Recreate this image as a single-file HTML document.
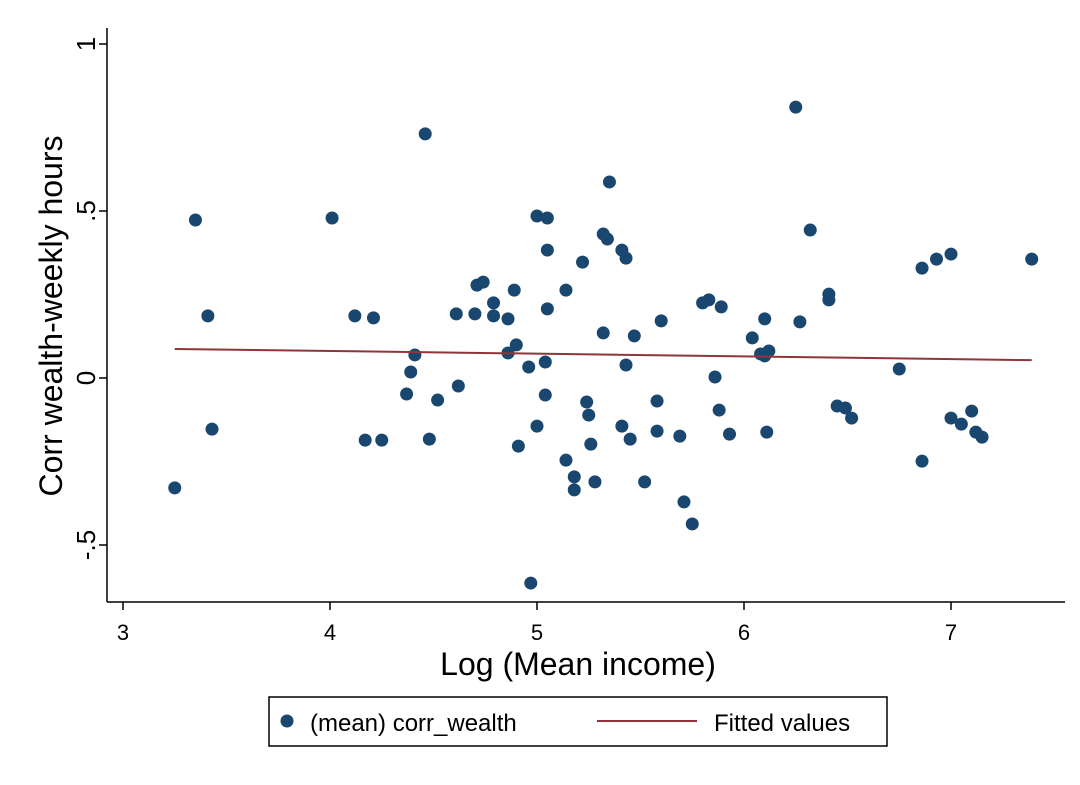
<!DOCTYPE html>
<html><head><meta charset="utf-8"><style>
body{margin:0;background:#fff;}
svg{display:block;font-family:"Liberation Sans",sans-serif;}
</style></head><body>
<svg id="chart" width="1080" height="785">
<rect x="0" y="0" width="1080" height="785" fill="#fff"/>
<g id="plot"></g>
<text x="578" y="675" font-size="32" text-anchor="middle">Log (Mean income)</text>
<text transform="translate(62,316) rotate(-90)" font-size="32" text-anchor="middle">Corr wealth-weekly hours</text>
<g>
<rect x="269" y="697" width="618" height="49" fill="#fff" stroke="#000" stroke-width="1.5"/>
<circle cx="287" cy="721" r="6.5" fill="#1a476f"/>
<text x="310" y="731" font-size="24">(mean) corr_wealth</text>
<line x1="597" y1="721" x2="697" y2="721" stroke="#90353b" stroke-width="2"/>
<text x="714" y="731" font-size="24">Fitted values</text>
</g>
</svg>
<script>
const xValues=[3.25,3.35,3.41,3.43,4.01,4.12,4.17,4.21,4.25,4.37,4.39,4.41,4.46,4.48,4.52,4.61,4.62,4.70,4.71,4.74,4.79,4.79,4.86,4.86,4.89,4.90,4.91,4.96,4.97,5.00,5.00,5.04,5.04,5.05,5.05,5.05,5.14,5.14,5.18,5.18,5.22,5.24,5.25,5.26,5.28,5.32,5.32,5.34,5.35,5.41,5.41,5.43,5.43,5.45,5.47,5.52,5.58,5.58,5.60,5.69,5.71,5.75,5.80,5.83,5.88,5.86,5.89,5.93,6.04,6.08,6.10,6.10,6.11,6.12,6.25,6.27,6.32,6.41,6.41,6.45,6.49,6.52,6.75,6.86,6.86,6.93,7.00,7.00,7.05,7.10,7.12,7.15,7.39];
const yValues=[-0.329,0.473,0.186,-0.153,0.479,0.186,-0.186,0.180,-0.186,-0.048,0.018,0.069,0.731,-0.183,-0.066,0.192,-0.024,0.192,0.278,0.287,0.186,0.225,0.177,0.075,0.263,0.099,-0.204,0.033,-0.614,-0.144,0.485,0.048,-0.051,0.479,0.383,0.207,0.263,-0.246,-0.296,-0.335,0.347,-0.072,-0.111,-0.198,-0.311,0.135,0.431,0.416,0.587,0.383,-0.144,0.359,0.039,-0.183,0.126,-0.311,-0.069,-0.159,0.171,-0.174,-0.371,-0.437,0.225,0.234,-0.096,0.003,0.213,-0.168,0.120,0.072,0.066,0.177,-0.162,0.081,0.811,0.168,0.443,0.251,0.234,-0.084,-0.090,-0.120,0.027,0.329,-0.249,0.356,0.371,-0.120,-0.138,-0.099,-0.162,-0.177,0.356];
const xTicks=[3,4,5,6,7];
const yTicks=[-0.5,0,0.5,1];
const yTickLabels=["-.5","0",".5","1"];
const NS="http://www.w3.org/2000/svg";
const plot=document.getElementById('plot');
const xs=v=>123+(v-3)*207;
const ys=v=>378-v*334;
function mk(tag,attrs){const e=document.createElementNS(NS,tag);for(const k in attrs)e.setAttribute(k,attrs[k]);plot.appendChild(e);return e;}
let e;
e=mk('line',{x1:107,y1:28,x2:107,y2:602,stroke:'#000','stroke-width':1.5});


e=mk('line',{x1:107,y1:602,x2:1065,y2:602,stroke:'#000','stroke-width':1.5});


xTicks.forEach(t=>{
 e=mk('line',{x1:xs(t),y1:602,x2:xs(t),y2:610,stroke:'#000','stroke-width':1.5});
 
 
 e=mk('text',{x:xs(t),y:640,'font-size':22,'text-anchor':'middle'});e.textContent=t;
 
 
});
yTicks.forEach((t,i)=>{
 e=mk('line',{x1:99,y1:ys(t),x2:107,y2:ys(t),stroke:'#000','stroke-width':1.5});
 
 
 e=mk('text',{transform:`translate(95,${ys(t)}) rotate(-90)`,'font-size':26,'text-anchor':'middle'});e.textContent=yTickLabels[i];
 
 
});
xValues.forEach((x,i)=>{
 e=mk('circle',{cx:xs(x),cy:ys(yValues[i]),r:6.5,fill:'#1a476f'});
 
 
});
const n=xValues.length;
const mx=xValues.reduce((a,b)=>a+b,0)/n,my=yValues.reduce((a,b)=>a+b,0)/n;
let sxy=0,sxx=0;xValues.forEach((x,i)=>{sxy+=(x-mx)*(yValues[i]-my);sxx+=(x-mx)*(x-mx);});
const b=sxy/sxx,a=my-b*mx;
const x0=Math.min(...xValues),x1=Math.max(...xValues);
e=mk('line',{x1:xs(x0),y1:ys(a+b*x0),x2:xs(x1),y2:ys(a+b*x1),stroke:'#90353b','stroke-width':2});


</script>
</body></html>
